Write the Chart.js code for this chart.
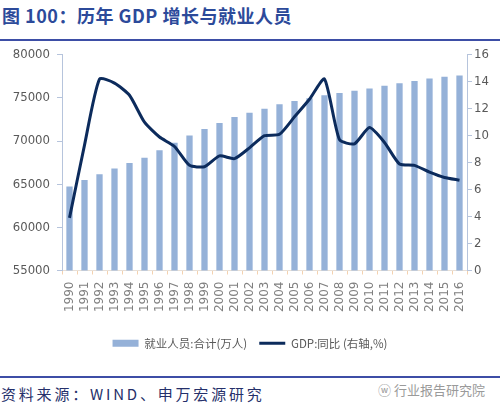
<!DOCTYPE html>
<html>
<head>
<meta charset="utf-8">
<script src="https://cdn.jsdelivr.net/npm/chart.js@4/dist/chart.umd.min.js"></script>
<style>
  body { margin: 0; background: #fff; width: 500px; height: 411px; position: relative; overflow: hidden; }
  .title { position: absolute; left: 2px; top: 2px; font: bold 18px "Noto Sans CJK SC", sans-serif; color: #2c4a9a; letter-spacing: 0.5px; }
  .rule { position: absolute; left: 0; width: 500px; height: 2px; background: #3d4ea6; }
  .wrap { position: absolute; left: 0; top: 40px; width: 500px; height: 320px; }
  .source { position: absolute; left: 1px; top: 383px; font: 15px "Noto Sans CJK SC", sans-serif; color: #25306a; letter-spacing: 2.8px; }
  .mark { position: absolute; left: 378px; top: 380px; font: 13px "Noto Sans CJK SC", sans-serif; color: #9a9a9a; }
</style>
</head>
<body>
<div class="title">图 100：历年 GDP 增长与就业人员</div>
<div class="rule" style="top:39px"></div>
<div class="wrap"><canvas id="chart1" width="500" height="320"></canvas></div>
<div class="rule" style="top:376px"></div>
<div class="source">资料来源：WIND、申万宏源研究</div>
<div class="mark">ⓦ 行业报告研究院</div>
<script>
var years = ["1990", "1991", "1992", "1993", "1994", "1995", "1996", "1997", "1998", "1999", "2000", "2001", "2002", "2003", "2004", "2005", "2006", "2007", "2008", "2009", "2010", "2011", "2012", "2013", "2014", "2015", "2016"];

//就业人员:合计(万人)
var employed = [64749, 65491, 66152, 66808, 67455, 68065, 68950, 69820, 70637, 71394, 72085, 72797, 73280, 73736, 74264, 74647, 74978, 75321, 75564, 75828, 76105, 76420, 76704, 76977, 77253, 77451, 77603];

//GDP:同比 (右轴,%)
var gdpGrowth = [3.9, 9.3, 14.2, 13.9, 13.0, 11.0, 9.9, 9.2, 7.8, 7.7, 8.5, 8.3, 9.1, 10.0, 10.1, 11.4, 12.7, 14.2, 9.7, 9.4, 10.6, 9.5, 7.9, 7.8, 7.3, 6.9, 6.7];

var narrowFont = "'DejaVu Sans Condensed', sans-serif";

var ctx = document.getElementById("chart1").getContext('2d');

var myChart = new Chart(ctx, {
  data: {
    labels: years,
    datasets: [{
      type: 'line',
      label: 'GDP:同比 (右轴,%)',
      data: gdpGrowth,
      yAxisID: 'y1',
      borderColor: '#0c2b5c',
      backgroundColor: '#0c2b5c',
      borderWidth: 3,
      pointRadius: 0,
      tension: 0.2,
      pointStyle: 'line',
      order: 0
    }, {
      type: 'bar',
      label: '就业人员:合计(万人)',
      data: employed,
      yAxisID: 'y',
      backgroundColor: '#95b1d8',
      borderWidth: 0,
      barPercentage: 0.42,
      categoryPercentage: 1,
      pointStyle: 'rect',
      order: 1
    }]
  },
  options: {
    responsive: false,
    animation: false,
    layout: { padding: { top: 8, left: 0, right: 0, bottom: 1 } },
    plugins: {
      tooltip: { enabled: false },
      legend: {
        position: 'bottom',
        reverse: true,
        labels: {
          usePointStyle: true,
          pointStyleWidth: 26,
          boxHeight: 7,
          padding: 12,
          color: '#595959',
          font: { family: "'Noto Sans CJK SC', sans-serif", size: 11.5 }
        }
      }
    },
    scales: {
      x: {
        offset: true,
        grid: { display: true, drawOnChartArea: false, offset: true, tickLength: 4, color: '#f4d2b0' },
        border: { color: '#e8e0d8' },
        ticks: {
          color: '#7f7f7f',
          maxRotation: 90,
          minRotation: 90,
          autoSkip: false,
          padding: 7,
          font: { family: "'DejaVu Sans', sans-serif", size: 12 }
        },
        afterFit: function(scale) { scale.height = 55; }
      },
      y: {
        position: 'left',
        min: 55000,
        max: 80000,
        grid: { drawOnChartArea: false, tickLength: 5, color: '#b6c4dc' },
        border: { color: '#b6c4dc' },
        ticks: {
          stepSize: 5000,
          color: '#595959',
          padding: 7,
          font: { family: narrowFont, size: 13 },
          callback: function(v) { return String(v); }
        },
        afterFit: function(scale) { scale.width = 62; }
      },
      y1: {
        position: 'right',
        min: 0,
        max: 16,
        grid: { drawOnChartArea: false, tickLength: 5, color: '#b6c4dc' },
        border: { color: '#b6c4dc' },
        ticks: {
          stepSize: 2,
          color: '#595959',
          padding: 2,
          font: { family: narrowFont, size: 13 }
        },
        afterFit: function(scale) { scale.width = 33; }
      }
    }
  }
});
</script>
</body>
</html>
